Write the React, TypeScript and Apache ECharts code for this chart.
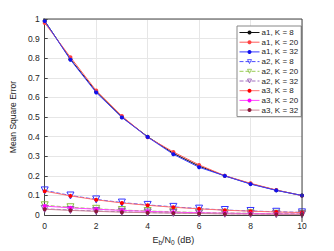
import React, { useEffect, useRef } from "react";
import * as echarts from "echarts";

const xs = [0, 1, 2, 3, 4, 5, 6, 7, 8, 9, 10];
const a1K8 = [0.99, 0.795, 0.63, 0.5, 0.4, 0.315, 0.25, 0.2, 0.16, 0.127, 0.1];
const a1K20 = [0.98, 0.805, 0.635, 0.505, 0.397, 0.322, 0.256, 0.201, 0.162, 0.128, 0.099];
const a1K32 = [0.99, 0.792, 0.625, 0.498, 0.398, 0.31, 0.244, 0.2, 0.158, 0.126, 0.1];
const a2K8 = [0.126, 0.1, 0.08, 0.064, 0.052, 0.042, 0.033, 0.026, 0.021, 0.017, 0.014];
const a2K20 = [0.05, 0.04, 0.032, 0.026, 0.021, 0.017, 0.013, 0.011, 0.009, 0.007, 0.006];
const a2K32 = [0.032, 0.026, 0.021, 0.017, 0.013, 0.011, 0.009, 0.007, 0.006, 0.005, 0.004];
const a3K8 = [0.122, 0.098, 0.078, 0.062, 0.05, 0.04, 0.032, 0.025, 0.02, 0.016, 0.013];
const a3K20 = [0.046, 0.037, 0.03, 0.024, 0.019, 0.015, 0.012, 0.01, 0.008, 0.006, 0.005];
const a3K32 = [0.03, 0.024, 0.019, 0.015, 0.012, 0.01, 0.008, 0.006, 0.005, 0.004, 0.003];

const names = [
  "a1, K = 8", "a1, K = 20", "a1, K = 32",
  "a2, K = 8", "a2, K = 20", "a2, K = 32",
  "a3, K = 8", "a3, K = 20", "a3, K = 32",
];

export default function App() {
  const ref = useRef<HTMLDivElement>(null);
  useEffect(() => {
    if (!ref.current) return;
    const chart = echarts.init(ref.current, null, { renderer: "svg" });
    const triDown = "path://M0,0 L10,0 L5,9 Z";
    const mk = (
      name: string, data: number[], lineColor: string, markColor: string,
      symbol: string, size: number, dashed: boolean, hollow: boolean, z: number
    ) => ({
      name,
      type: "line",
      data: xs.map((x, i) => [x, data[i]]),
      symbol,
      symbolSize: size,
      showSymbol: true,
      z,
      lineStyle: { color: lineColor, width: 1, type: dashed ? [4, 2] : "solid" },
      itemStyle: hollow
        ? { color: "rgba(255,255,255,0)", borderColor: markColor, borderWidth: 1 }
        : { color: markColor, borderColor: markColor, borderWidth: 0 },
      emphasis: { disabled: true },
    });
    const legendData = names.map((n, i) => ({
      name: n,
      itemStyle: i >= 3 && i <= 5 ? { borderWidth: 0.8 } : { borderWidth: 0 },
    }));
    chart.setOption({
      animation: false,
      grid: { left: 43, right: 32, top: 19, bottom: 29, containLabel: false, show: false },
      legend: {
        show: true,
        orient: "vertical",
        left: 237,
        top: 26,
        width: 57,
        itemGap: 1.7,
        itemWidth: 20,
        itemHeight: 5,
        padding: [2.5, 3, 2.5, 2],
        borderColor: "#888",
        borderWidth: 1,
        backgroundColor: "#fff",
        lineStyle: { width: 1 },
        textStyle: { fontSize: 8, color: "#222", fontFamily: "Liberation Sans", padding: [0, 0, 0, -3] },
        data: legendData,
      },
      xAxis: {
        type: "value",
        min: 0,
        max: 10,
        interval: 2,
        name: "{n|E}{s|b}{n|/N}{s|0}{n| (dB)}",
        nameLocation: "middle",
        nameGap: 17,
        nameTextStyle: {
          rich: {
            n: { fontSize: 9, color: "#262626", fontFamily: "Liberation Sans" },
            s: { fontSize: 6.5, color: "#262626", fontFamily: "Liberation Sans", verticalAlign: "bottom", padding: [6, 0, 0, 0] },
          },
        },
        axisLine: { show: true, lineStyle: { color: "#444", width: 1 } },
        axisTick: { show: true, inside: true, length: 3, lineStyle: { color: "#444" } },
        axisLabel: { fontSize: 8.5, color: "#262626", margin: 6, fontFamily: "Liberation Sans" },
        splitLine: { show: true, lineStyle: { color: "#e6e6e6", width: 1 } },
      },
      yAxis: {
        type: "value",
        min: 0,
        max: 1,
        interval: 0.1,
        name: "Mean Square Error",
        nameLocation: "middle",
        nameGap: 23,
        nameTextStyle: { fontSize: 8.5, color: "#262626", fontFamily: "Liberation Sans" },
        axisLine: { show: true, lineStyle: { color: "#444", width: 1 } },
        axisTick: { show: true, inside: true, length: 3, lineStyle: { color: "#444" } },
        axisLabel: { fontSize: 8.5, color: "#262626", margin: 5, fontFamily: "Liberation Sans",
          formatter: (v: number) => String(Math.round(v * 10) / 10) },
        splitLine: { show: true, lineStyle: { color: "#e6e6e6", width: 1 } },
      },
      graphic: [
        { type: "line", shape: { x1: 43, y1: 19, x2: 302, y2: 19 }, style: { stroke: "#444", lineWidth: 1 }, z: 10 },
        { type: "line", shape: { x1: 302, y1: 19, x2: 302, y2: 222 }, style: { stroke: "#444", lineWidth: 1 }, z: 10 },
      ],
      series: [
        mk(names[0], a1K8, "#111", "#111", "circle", 4, false, false, 3),
        mk(names[1], a1K20, "#ff5a5a", "#ff4040", "circle", 4, false, false, 4),
        mk(names[2], a1K32, "#3a3aff", "#1010ee", "circle", 4, false, false, 5),
        mk(names[3], a2K8, "#4d4dff", "#3333ff", triDown, 7, true, true, 3),
        mk(names[4], a2K20, "#99cc55", "#88c040", triDown, 7, true, true, 3),
        mk(names[5], a2K32, "#a070c0", "#9050b0", triDown, 7, true, true, 3),
        mk(names[6], a3K8, "#ff7070", "#ff0000", "circle", 4, false, false, 6),
        mk(names[7], a3K20, "#ff44ff", "#ff00ff", "circle", 4, false, false, 6),
        mk(names[8], a3K32, "#cc8899", "#8b1a3a", "circle", 4, false, false, 6),
      ],
    });
    return () => chart.dispose();
  }, []);
  return (
    <div
      ref={ref}
      style={{ position: "fixed", left: 0, top: 0, width: 334, height: 251, background: "#fff" }}
    />
  );
}
